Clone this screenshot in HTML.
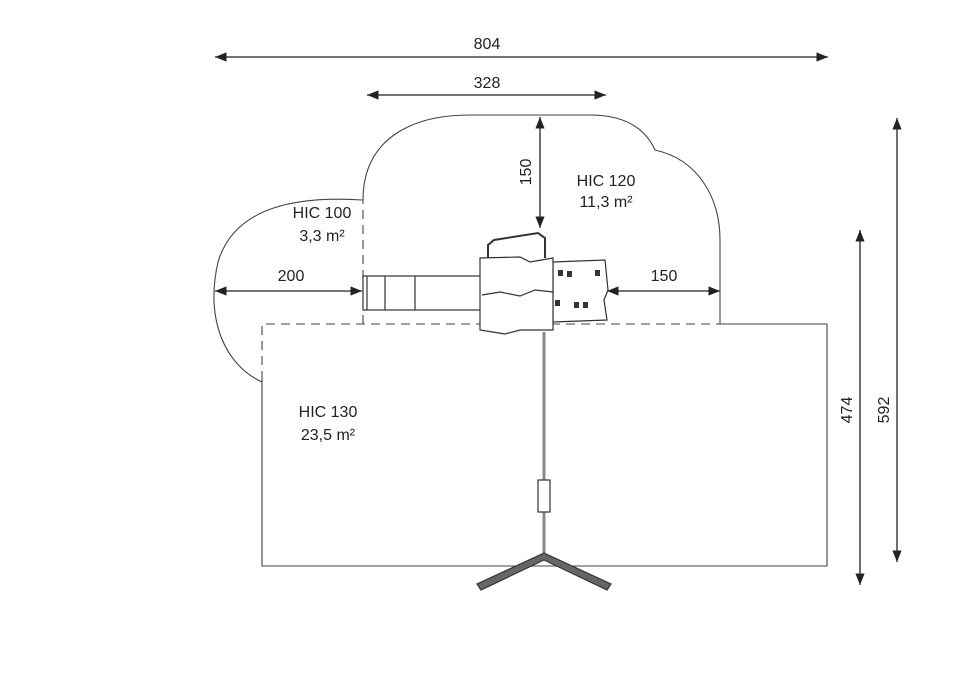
<!DOCTYPE html><html><head><style>body{margin:0;background:#fff}svg{display:block}text{font-family:"Liberation Sans",sans-serif;font-size:16px;fill:#222}</style></head><body>
<svg width="960" height="679" viewBox="0 0 960 679">
<defs><marker id="a" viewBox="0 0 10 10" refX="10" refY="5" markerWidth="9" markerHeight="9" orient="auto-start-reverse"><path d="M0,1 L10,5 L0,9 Z" fill="#222"/></marker></defs>
<g stroke="#222" stroke-width="1.3" fill="none">
<line x1="215" y1="57" x2="828" y2="57" marker-start="url(#a)" marker-end="url(#a)"/>
<line x1="367" y1="95" x2="606" y2="95" marker-start="url(#a)" marker-end="url(#a)"/>
<line x1="540" y1="117" x2="540" y2="228" marker-start="url(#a)" marker-end="url(#a)"/>
<line x1="215" y1="291" x2="362" y2="291" marker-start="url(#a)" marker-end="url(#a)"/>
<line x1="607" y1="291" x2="720" y2="291" marker-start="url(#a)" marker-end="url(#a)"/>
<line x1="860" y1="230" x2="860" y2="585" marker-start="url(#a)" marker-end="url(#a)"/>
<line x1="897" y1="118" x2="897" y2="562" marker-start="url(#a)" marker-end="url(#a)"/>
</g>
<g stroke="#444" stroke-width="1.1" fill="none">
<path d="M720 324 L827 324 L827 566 L262 566 L262 380"/>
<path d="M262 380 L262 324 L720 324" stroke-dasharray="9 6"/>
<path d="M363 324 L363 200" stroke-dasharray="9 6"/>
<path d="M363 200 C363 140 410 115 470 115 L590 115 C625 115 645 128 655 150 C700 160 720 200 720 240 L720 324"/>
<path d="M363 200 C300 196 235 205 218 262 C205 320 225 365 262 382"/>
</g>
<g stroke="#333" stroke-width="1.2" fill="#fff">
<rect x="363" y="276" width="118" height="34"/>
<line x1="367" y1="276" x2="367" y2="310"/><line x1="385" y1="276" x2="385" y2="310"/><line x1="415" y1="276" x2="415" y2="310"/>
<path d="M488 258 L488 245 L494 240 L538 233 L545 238 L545 258" fill="none" stroke-width="2"/>
<path d="M553 262 L605 260 L608 290 L604 300 L607 320 L553 322 Z"/>
<path d="M480 258 L520 257 L530 262 L553 258 L553 330 L520 330 L505 334 L480 330 Z"/>
<path d="M482 295 L500 292 L520 296 L535 290 L553 292" fill="none"/>
<line x1="544" y1="332" x2="544" y2="555" stroke="#888" stroke-width="3"/>
<rect x="538" y="480" width="12" height="32"/>
<path d="M544 553 L477 584 L481 590 L544 560 L607 590 L611 584 Z" fill="#666"/>
</g>
<g fill="#333"><rect x="558" y="270" width="5" height="6"/><rect x="567" y="271" width="5" height="6"/><rect x="595" y="270" width="5" height="6"/><rect x="555" y="300" width="5" height="6"/><rect x="574" y="302" width="5" height="6"/><rect x="583" y="302" width="5" height="6"/></g>
<text x="487" y="49" text-anchor="middle">804</text>
<text x="487" y="88" text-anchor="middle">328</text>
<text x="291" y="281" text-anchor="middle">200</text>
<text x="664" y="281" text-anchor="middle">150</text>
<text transform="translate(531,172) rotate(-90)" text-anchor="middle">150</text>
<text transform="translate(852,410) rotate(-90)" text-anchor="middle">474</text>
<text transform="translate(889,410) rotate(-90)" text-anchor="middle">592</text>
<text x="322" y="218" text-anchor="middle">HIC 100</text>
<text x="322" y="241" text-anchor="middle">3,3 m²</text>
<text x="606" y="186" text-anchor="middle">HIC 120</text>
<text x="606" y="207" text-anchor="middle">11,3 m²</text>
<text x="328" y="417" text-anchor="middle">HIC 130</text>
<text x="328" y="440" text-anchor="middle">23,5 m²</text>
</svg></body></html>
